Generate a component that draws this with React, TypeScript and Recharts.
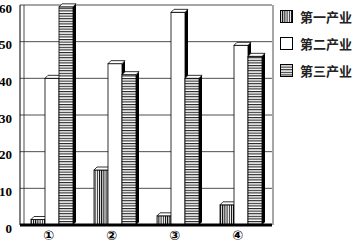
import React from 'react';
import { BarChart, Bar, XAxis, YAxis, CartesianGrid, Legend } from 'recharts';

const categories = ['①', '②', '③', '④'];
const primary = [1.5, 15, 2.5, 5.5];
const secondary = [40, 44, 58, 49];
const tertiary = [59.5, 41, 40, 46];
const yTicks = [0, 10, 20, 30, 40, 50, 60];

const seriesNames = ['第一产业', '第二产业', '第三产业'];
const fills = ['url(#vstripe)', '#fff', 'url(#hstripe)'];

const data = categories.map((c, i) => ({
  name: c,
  p: primary[i],
  s: secondary[i],
  t: tertiary[i],
}));

const D = 3;

const Bar3D = (props: any) => {
  const { x, y, width, height, fill } = props;
  if (height == null || width == null) return null;
  const w = width;
  const h = height;
  return (
    <g>
      <rect x={x} y={y} width={w} height={h} fill={fill} stroke="#000" strokeWidth={0.8} />
      <polygon
        points={`${x + w},${y} ${x + w + D},${y - D} ${x + w + D},${y + h - D} ${x + w},${y + h}`}
        fill="#000"
      />
      <polygon
        points={`${x},${y} ${x + D},${y - D} ${x + w + D},${y - D} ${x + w},${y}`}
        fill="#fff"
        stroke="#000"
        strokeWidth={0.8}
      />
    </g>
  );
};

const LegendIcon = ({ fill }: { fill: string }) => (
  <svg width={13} height={13} style={{ display: 'block' }}>
    <rect x={0.5} y={0.5} width={12} height={12} fill={fill} stroke="#000" strokeWidth={1} />
  </svg>
);

const renderLegend = () => (
  <div>
    {seriesNames.map((n, i) => (
      <div key={n} style={{ display: 'flex', alignItems: 'center', height: 27 }}>
        <LegendIcon fill={fills[i]} />
        <span
          style={{
            marginLeft: 7,
            fontSize: 13,
            fontWeight: 'bold',
            fontFamily: '"Noto Sans CJK SC"',
            color: '#222',
          }}
        >
          {n}
        </span>
      </div>
    ))}
  </div>
);

const App = () => {
  return (
    <div style={{ position: 'absolute', left: 0, top: 0, width: 356, height: 244, background: '#fff' }}>
      <BarChart
        width={356}
        height={244}
        data={data}
        margin={{ top: 5, right: 84, left: 0, bottom: 0 }}
        barSize={14}
        barGap={0}
      >
        <defs>
          <pattern id="vstripe" width={2.2} height={4} patternUnits="userSpaceOnUse">
            <rect width={2.2} height={4} fill="#fff" />
            <rect width={1} height={4} fill="#000" />
          </pattern>
          <pattern id="hstripe" width={4} height={2.6} patternUnits="userSpaceOnUse">
            <rect width={4} height={2.6} fill="#fff" />
            <rect width={4} height={1.1} fill="#222" />
          </pattern>
        </defs>
        <CartesianGrid
          stroke="#222"
          strokeWidth={0.8}
          vertical={true}
          verticalPoints={[24, 273]}
        />
        <XAxis
          dataKey="name"
          height={19}
          axisLine={{ stroke: '#000', strokeWidth: 3 }}
          tickLine={false}
          tickMargin={1}
          tick={{ fill: '#000', fontSize: 13, fontWeight: 'bold', fontFamily: 'DejaVu Sans', dx: -3, dy: -1 }}
        />
        <YAxis
          width={20}
          domain={[0, 60]}
          ticks={yTicks}
          interval={0}
          axisLine={{ stroke: '#000', strokeWidth: 1 }}
          tickLine={false}
          tick={{ fill: '#000', fontSize: 13, fontWeight: 'bold', fontFamily: 'Liberation Serif', dy: 3 }}
          tickMargin={2}
        />
        <Legend
          layout="vertical"
          align="center"
          verticalAlign="middle"
          content={renderLegend}
          wrapperStyle={{ left: 280, top: 3, width: 76 }}
        />
        <Bar dataKey="p" name={seriesNames[0]} fill={fills[0]} shape={<Bar3D />} isAnimationActive={false} />
        <Bar dataKey="s" name={seriesNames[1]} fill={fills[1]} shape={<Bar3D />} isAnimationActive={false} />
        <Bar dataKey="t" name={seriesNames[2]} fill={fills[2]} shape={<Bar3D />} isAnimationActive={false} />
      </BarChart>
    </div>
  );
};

export default App;
